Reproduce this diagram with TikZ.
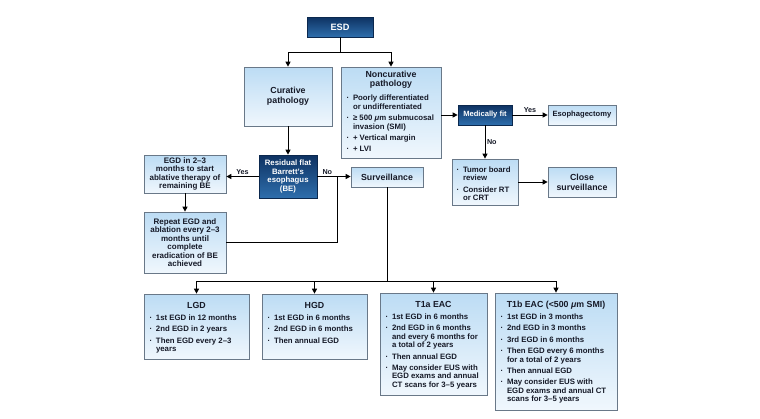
\documentclass[tikz,border=0pt]{standalone}
\usepackage{fontspec}
\setmainfont{Liberation Sans}
\usetikzlibrary{arrows.meta,shadows}
\definecolor{dtop}{RGB}{14,50,98}
\definecolor{dbot}{RGB}{46,110,172}
\definecolor{ltop}{RGB}{188,220,244}
\definecolor{lbot}{RGB}{240,247,253}
\definecolor{bord}{RGB}{105,120,136}
\definecolor{txt}{RGB}{22,26,40}
\newcommand\bl[1]{\par\vspace{2.8pt}\hangindent=7pt\hangafter=1\noindent\hbox to 7pt{\hspace{0.5pt}·\hfil}#1}
\newcommand\bx[3]{\begin{minipage}[c][#2][t]{#1}\raggedright\fontsize{7.8}{8.5}\selectfont\bfseries #3\end{minipage}}
\newcommand\ttl[1]{{\centering\fontsize{8.8}{9.6}\selectfont\bfseries #1\par}\vspace{1pt}}
\newcommand\tttl[1]{\vspace*{4pt}\ttl{#1}}
\tikzset{
  lbox/.style={draw=bord, line width=0.7pt, top color=ltop, bottom color=lbot,
    text=txt, align=center, inner sep=0pt,
    drop shadow={shadow xshift=1pt, shadow yshift=-1pt, opacity=0.25, fill=black!60},
    font=\fontsize{8.8}{10}\selectfont\bfseries},
  dbox/.style={draw=dtop!80!black, line width=0.7pt, top color=dtop, bottom color=dbot,
    text=white, align=center, inner sep=0pt,
    drop shadow={shadow xshift=1pt, shadow yshift=-1pt, opacity=0.25, fill=black!60},
    font=\fontsize{7.8}{8.8}\selectfont\bfseries},
  con/.style={line width=1pt, draw=black},
  arr/.style={con, -{Triangle[length=5pt,width=5pt]}},
  lab/.style={font=\fontsize{7.2}{8}\selectfont\bfseries, text=txt, inner sep=1.5pt}
}
\begin{document}
\begin{tikzpicture}[x=1pt,y=-1pt]
\fill[white] (0,0) rectangle (760,418);
\useasboundingbox (0,0) rectangle (760,418);

% top part
\node[dbox, minimum width=66pt, minimum height=20pt, font=\fontsize{9.2}{10}\selectfont\bfseries] (esd) at (340,27) {ESD};
\node[lbox, minimum width=88pt, minimum height=59pt] (cur) at (288,96.5) {Curative\\pathology};
\node[lbox, inner xsep=5pt, inner ysep=4pt] (non) at (391,112.5) {\bx{90pt}{83pt}{\ttl{Noncurative\\pathology}\vspace{1.5pt}%
  \bl{Poorly differentiated\newline or undifferentiated}%
  \bl{≥ 500 {\itshape μ}m submucosal\newline invasion (SMI)}%
  \bl{+ Vertical margin}%
  \bl{+ LVI}}};
\node[dbox, minimum width=54pt, minimum height=20pt, font=\fontsize{7.6}{8.5}\selectfont\bfseries] (med) at (485,115) {Medically fit};
\node[lbox, minimum width=68pt, minimum height=20pt, font=\fontsize{7.6}{8.5}\selectfont\bfseries] (eso) at (582,115) {Esophagectomy};
\node[lbox, inner xsep=4pt, inner ysep=4pt] (tum) at (485,182) {\bx{58pt}{38pt}{\vspace*{1pt}%
  \bl{Tumor board\newline review}%
  \bl{Consider RT\newline or CRT}}};
\node[lbox, minimum width=68pt, minimum height=30pt] (cls) at (582,182) {Close\\surveillance};

% middle part
\node[dbox, minimum width=58pt, minimum height=43pt] (res) at (288,176.5) {Residual flat\\Barrett's\\esophagus\\(BE)};
\node[lbox, minimum width=82pt, minimum height=38pt, font=\fontsize{8}{8.5}\selectfont\bfseries] (egd) at (185,174) {EGD in 2–3\\months to start\\ablative therapy of\\remaining BE};
\node[lbox, minimum width=82pt, minimum height=61pt, font=\fontsize{8}{8.5}\selectfont\bfseries] (rep) at (185,242.5) {Repeat EGD and\\ablation every 2–3\\months until\\complete\\eradication of BE\\achieved};
\node[lbox, minimum width=72pt, minimum height=20pt] (sur) at (387,177) {Surveillance};

% bottom part
\node[lbox, inner xsep=5pt, inner ysep=4pt] (lgd) at (196.5,326.5) {\bx{95pt}{57pt}{\tttl{LGD}%
  \bl{1st EGD in 12 months}%
  \bl{2nd EGD in 2 years}%
  \bl{Then EGD every 2–3\newline years}}};
\node[lbox, inner xsep=5pt, inner ysep=4pt] (hgd) at (314.5,326.5) {\bx{95pt}{57pt}{\tttl{HGD}%
  \bl{1st EGD in 6 months}%
  \bl{2nd EGD in 6 months}%
  \bl{Then annual EGD}}};
\node[lbox, inner xsep=5pt, inner ysep=4pt] (tia) at (433.5,344) {\bx{97pt}{94pt}{\tttl{T1a EAC}%
  \bl{1st EGD in 6 months}%
  \bl{2nd EGD in 6 months\newline and every 6 months for\newline a total of 2 years}%
  \bl{Then annual EGD}%
  \bl{May consider EUS with\newline EGD exams and annual\newline CT scans for 3–5 years}}};
\node[lbox, inner xsep=5pt, inner ysep=4pt] (tib) at (556,351.5) {\bx{112pt}{109pt}{\tttl{T1b EAC (<500 {\itshape μ}m SMI)}%
  \bl{1st EGD in 3 months}%
  \bl{2nd EGD in 3 months}%
  \bl{3rd EGD in 6 months}%
  \bl{Then EGD every 6 months\newline for a total of 2 years}%
  \bl{Then annual EGD}%
  \bl{May consider EUS with\newline EGD exams and annual CT\newline scans for 3–5 years}}};

% connectors
\coordinate (split) at (340,52);
\draw[con] (esd.south) -- (split);
\draw[arr] (split) -| (cur.north);
\draw[arr] (split) -| (non.north);
\draw[arr] (cur.south) -- (res.north);
\draw[arr] (med.west -| non.east) -- (med.west);
\draw[arr] (med.east) -- node[lab, above] {Yes} (eso.west);
\draw[arr] (med.south) -- node[lab, right] {No} (tum.north);
\draw[arr] (tum.east |- cls.west) -- (cls.west);
\draw[arr] (res.west) -- node[lab, above] {Yes} (res.west -| egd.east);
\draw[arr] (egd.south) -- (rep.north);
\draw[arr] (res.east) -- node[lab, above, pos=0.3] {No} (res.east -| sur.west);
\coordinate (join) at (337,176.5);
\draw[con] (rep.east) -| (join);
\coordinate (bus) at (387,281);
\draw[con] (sur.south) -- (bus);
\draw[arr] (bus) -| (lgd.north);
\draw[arr] (bus) -| (hgd.north);
\draw[arr] (bus) -| (tia.north);
\draw[arr] (bus) -| (tib.north);
\end{tikzpicture}
\end{document}
